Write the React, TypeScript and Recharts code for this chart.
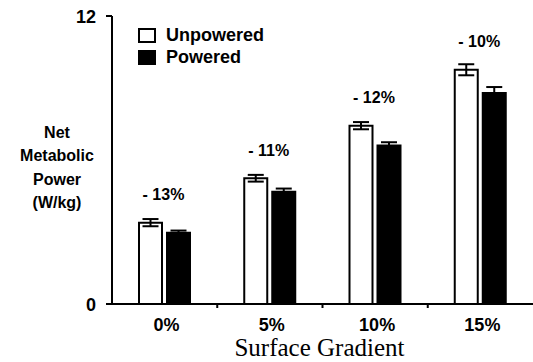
import React from 'react';
import { BarChart, Bar, XAxis, YAxis, ErrorBar, LabelList, Label } from 'recharts';

const categories = ['0%', '5%', '10%', '15%'];
const unpowered = [3.39, 5.24, 7.43, 9.76];
const unpoweredErr = [0.15, 0.14, 0.15, 0.23];
const powered = [2.97, 4.68, 6.6, 8.79];
const poweredErr = [0.09, 0.13, 0.14, 0.25];
const reductions = ['- 13%', '- 11%', '- 12%', '- 10%'];
const yTicks = [0, 12];
const yLabelLines = ['Net', 'Metabolic', 'Power', '(W/kg)'];
const xLabel = 'Surface Gradient';
const legendItems = [
  { name: 'Unpowered', fill: '#fff' },
  { name: 'Powered', fill: '#000' },
];

const data = categories.map((c, i) => ({
  cat: c,
  unpowered: unpowered[i],
  uErr: unpoweredErr[i],
  powered: powered[i],
  pErr: poweredErr[i],
  reduction: reductions[i],
}));

const W = 533;
const H = 362;
const LEFT = 112;
const SANS = '"Liberation Sans", Arial, Helvetica, sans-serif';
const SERIF = '"Liberation Serif", "Times New Roman", serif';
const BAR = 23;
const GAP = 5;

const XTick = (props: any) => {
  const { x, y, payload } = props;
  return (
    <text x={x + 2} y={y + 27} textAnchor="middle" fontFamily={SANS} fontWeight="bold" fontSize={18} fill="#000">
      {payload.value}
    </text>
  );
};

const YTick = (props: any) => {
  const { x, y, payload } = props;
  return (
    <text x={x} y={y + 7} textAnchor="end" fontFamily={SANS} fontWeight="bold" fontSize={18} fill="#000">
      {payload.value}
    </text>
  );
};

const ReductionLabel = (props: any) => {
  const vb = props.viewBox || props;
  const x = vb.x ?? props.x;
  const y = vb.y ?? props.y;
  return (
    <text x={x + (2 * BAR + GAP) / 2 - 1} y={y - 22.5} textAnchor="middle" fontFamily={SANS} fontWeight="bold" fontSize={16} fill="#000">
      {props.value}
    </text>
  );
};

const XAxisDecor = (p: any) => {
  const vb = p.viewBox;
  const band = vb.width / categories.length;
  return (
    <g>
      {categories.slice(1).map((c, i) => (
        <line
          key={c}
          x1={vb.x + band * (i + 1)}
          x2={vb.x + band * (i + 1)}
          y1={vb.y}
          y2={vb.y + 4}
          stroke="#000"
          strokeWidth={2}
        />
      ))}
      <text x={vb.x + vb.width / 2 - 3} y={vb.y + 52} textAnchor="middle" fontFamily={SERIF} fontSize={25} fill="#000">
        {xLabel}
      </text>
    </g>
  );
};

export default function App() {
  return (
    <div style={{ position: 'absolute', left: 0, top: 0, width: W, height: H, background: '#fff' }}>
      <BarChart
        width={W}
        height={H}
        data={data}
        margin={{ top: 16, right: 0, bottom: 28, left: 0 }}
        barSize={BAR}
        barGap={GAP}
      >
        <XAxis
          dataKey="cat"
          axisLine={{ stroke: '#000', strokeWidth: 2 }}
          tickLine={false}
          tickSize={0}
          tickMargin={0}
          height={30}
          tick={<XTick />}
          interval={0}
        >
          <Label content={<XAxisDecor />} />
        </XAxis>
        <YAxis
          width={LEFT}
          domain={[0, 12]}
          ticks={yTicks}
          axisLine={{ stroke: '#000', strokeWidth: 2 }}
          tickLine={{ stroke: '#000', strokeWidth: 2 }}
          tickSize={6}
          tickMargin={10}
          tick={<YTick />}
        >
          <Label
            content={() => (
              <text textAnchor="middle" fontFamily={SANS} fontWeight="bold" fontSize={16} fill="#000">
                {yLabelLines.map((l, i) => (
                  <tspan key={l} x={57} y={138 + i * 23.4}>
                    {l}
                  </tspan>
                ))}
              </text>
            )}
          />
        </YAxis>
        <Bar dataKey="unpowered" name="Unpowered" fill="#fff" stroke="#000" strokeWidth={2} isAnimationActive={false}>
          <ErrorBar dataKey="uErr" width={8} stroke="#000" strokeWidth={2} />
          <LabelList dataKey="reduction" content={<ReductionLabel />} />
        </Bar>
        <Bar dataKey="powered" name="Powered" fill="#000" stroke="#000" strokeWidth={2} isAnimationActive={false}>
          <ErrorBar dataKey="pErr" width={8} stroke="#000" strokeWidth={2} />
        </Bar>
      </BarChart>
      <div style={{ position: 'absolute', left: 138, top: 24, fontFamily: SANS, fontWeight: 'bold', fontSize: 18, color: '#000', lineHeight: '22px' }}>
        {legendItems.map((it) => (
          <div key={it.name} style={{ display: 'flex', alignItems: 'center', height: 22 }}>
            <div style={{ width: 14, height: 11, border: '2px solid #000', background: it.fill, marginRight: 10 }} />
            <span>{it.name}</span>
          </div>
        ))}
      </div>
    </div>
  );
}
